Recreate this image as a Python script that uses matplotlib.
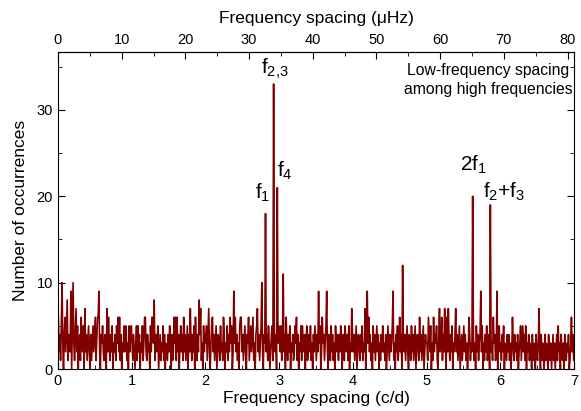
import numpy as np
import matplotlib.pyplot as plt
from matplotlib.ticker import MultipleLocator

plt.rcParams['font.family'] = ['Liberation Sans', 'DejaVu Sans']
plt.rcParams['mathtext.default'] = 'regular'

# histogram of frequency spacings, bins of 0.01 c/d
bin_width = 0.01
counts_0 = [6, 2, 4, 1, 5, 10, 3, 0, 4, 6,
            2, 5, 8, 1, 3, 4, 2, 9, 0, 5,
            10, 3, 1, 4, 7, 2, 5, 0, 3, 4,
            1, 6, 3, 2, 5, 0, 7, 2, 4, 1,
            3, 5, 2, 0, 4, 1, 3, 5, 2, 4,
            6, 1, 3, 6, 6, 9, 2, 0, 4, 3,
            5, 2, 1, 4, 3, 0, 7, 2, 6, 3,
            1, 4, 2, 5, 0, 3, 2, 4, 1, 5,
            3, 6, 2, 6, 1, 4, 0, 3, 2, 5,
            2, 4, 5, 1, 3, 0, 5, 2, 4, 5]
counts_1 = [3, 1, 4, 2, 0, 3, 5, 1, 5, 2,
            4, 0, 3, 2, 5, 1, 3, 6, 6, 2,
            1, 4, 2, 3, 0, 5, 2, 6, 6, 3,
            8, 1, 4, 2, 3, 5, 0, 2, 4, 1,
            3, 2, 5, 1, 4, 0, 3, 2, 1, 4,
            2, 5, 3, 0, 4, 1, 2, 6, 3, 6,
            1, 6, 2, 4, 0, 3, 5, 2, 4, 1,
            6, 2, 4, 1, 3, 5, 0, 4, 2, 7,
            3, 1, 4, 2, 5, 0, 6, 3, 1, 4,
            2, 8, 4, 7, 1, 3, 0, 5, 2, 4]
counts_2 = [3, 5, 1, 4, 7, 2, 0, 3, 5, 6,
            2, 4, 1, 3, 5, 0, 2, 4, 3, 1,
            5, 2, 3, 1, 6, 4, 0, 3, 2, 5,
            1, 4, 2, 6, 3, 5, 0, 2, 9, 3,
            6, 2, 4, 1, 3, 0, 5, 6, 6, 2,
            4, 1, 3, 5, 2, 0, 4, 3, 6, 1,
            3, 5, 2, 4, 6, 1, 3, 0, 4, 5,
            7, 2, 4, 1, 3, 5, 10, 2, 0, 4,
            3, 18, 2, 4, 1, 5, 3, 0, 2, 4,
            5, 1, 33, 3, 2, 4, 0, 21, 3, 5]
counts_3 = [4, 2, 5, 1, 3, 11, 2, 4, 0, 6,
            3, 1, 4, 2, 5, 0, 3, 2, 4, 1,
            2, 5, 3, 6, 1, 4, 0, 3, 2, 5,
            1, 5, 3, 2, 4, 0, 3, 5, 1, 2,
            4, 2, 5, 1, 3, 0, 4, 2, 5, 3,
            1, 4, 2, 9, 3, 5, 0, 2, 6, 3,
            4, 1, 3, 5, 9, 2, 0, 4, 3, 1,
            5, 2, 4, 1, 3, 0, 5, 2, 4, 3,
            1, 4, 2, 5, 3, 0, 4, 2, 1, 5,
            3, 2, 4, 1, 5, 0, 3, 2, 7, 4]
counts_4 = [2, 4, 1, 3, 5, 0, 2, 4, 3, 1,
            4, 2, 5, 1, 3, 2, 7, 0, 4, 9,
            3, 6, 2, 4, 1, 3, 0, 5, 2, 4,
            1, 3, 5, 2, 4, 0, 3, 1, 4, 2,
            5, 2, 3, 1, 4, 0, 2, 5, 3, 1,
            4, 2, 3, 5, 9, 1, 3, 0, 4, 2,
            5, 1, 3, 6, 2, 4, 0, 12, 3, 2,
            4, 1, 3, 5, 2, 0, 4, 3, 1, 5,
            2, 4, 1, 3, 5, 0, 2, 4, 3, 1,
            6, 2, 4, 1, 3, 5, 0, 2, 4, 3]
counts_5 = [3, 1, 6, 4, 2, 5, 0, 3, 1, 6,
            2, 4, 3, 5, 1, 0, 4, 7, 2, 3,
            6, 1, 4, 2, 7, 3, 0, 6, 2, 7,
            3, 1, 4, 2, 5, 0, 3, 2, 4, 7,
            2, 4, 1, 3, 5, 0, 2, 4, 1, 3,
            5, 2, 4, 1, 3, 0, 2, 6, 4, 1,
            3, 2, 20, 4, 1, 3, 0, 5, 2, 4,
            1, 3, 4, 9, 2, 5, 0, 3, 1, 4,
            2, 5, 1, 3, 4, 0, 19, 2, 3, 1,
            6, 3, 4, 1, 2, 9, 0, 3, 5, 2]
counts_6 = [3, 1, 4, 2, 5, 0, 3, 2, 1, 4,
            2, 4, 1, 3, 0, 2, 6, 3, 1, 4,
            2, 3, 1, 4, 0, 2, 3, 5, 1, 3,
            5, 2, 4, 1, 5, 0, 3, 2, 4, 1,
            3, 2, 0, 4, 1, 3, 2, 0, 4, 2,
            1, 3, 7, 2, 0, 4, 1, 3, 2, 0,
            4, 1, 3, 2, 0, 4, 2, 1, 3, 0,
            2, 4, 1, 3, 0, 2, 4, 1, 5, 2,
            3, 0, 4, 2, 1, 3, 0, 4, 2, 1,
            3, 2, 4, 0, 1, 3, 6, 2, 4, 1]

counts = np.array(counts_0 + counts_1 + counts_2 + counts_3 + counts_4 + counts_5 + counts_6)
spacing = (np.arange(len(counts)) + 0.5) * bin_width

# peak labels: (text, x, y)
peak_labels = [(r'$f_{2{,}3}$', 2.94, 33.4),
               (r'$f_1$', 2.78, 19.1),
               (r'$f_4$', 3.08, 21.6),
               (r'$2f_1$', 5.63, 22.4),
               (r'$f_2$+$f_3$', 6.05, 19.2)]

CD_TO_UHZ = 1e6 / 86400.0

fig, ax = plt.subplots(figsize=(5.81, 4.11), dpi=100)
fig.subplots_adjust(left=0.0998, right=0.988, bottom=0.102, top=0.8735)

ax.plot(spacing, counts, color='#800000', linewidth=1.2)

ax.set_xlim(0, 7)
ax.set_ylim(0, 36.7)
ax.set_xlabel('Frequency spacing (c/d)', fontsize=12.5, labelpad=2)
ax.set_ylabel('Number of occurrences', fontsize=12.5, labelpad=6)

ax.xaxis.set_major_locator(MultipleLocator(1))
ax.xaxis.set_minor_locator(MultipleLocator(0.5))
ax.yaxis.set_major_locator(MultipleLocator(10))
ax.yaxis.set_minor_locator(MultipleLocator(5))
ax.tick_params(which='both', direction='in', right=True, labelsize=10.5)
ax.tick_params(which='major', length=5)
ax.tick_params(which='minor', length=3)

# top axis in microhertz
top = ax.secondary_xaxis('top', functions=(lambda x: x * CD_TO_UHZ, lambda u: u / CD_TO_UHZ))
top.set_xlabel('Frequency spacing (\u03bcHz)', fontsize=12.5, labelpad=7)
top.set_xticks(np.arange(0, 81, 10))
top.xaxis.set_minor_locator(MultipleLocator(5))
top.tick_params(which='both', direction='in', labelsize=10.5)
top.tick_params(which='major', length=5)
top.tick_params(which='minor', length=3)

for txt, x, y in peak_labels:
    ax.text(x, y, txt, fontsize=15, ha='center', va='bottom')

ax.text(0.833, 0.965, 'Low-frequency spacing\namong high frequencies', transform=ax.transAxes,
        fontsize=11.3, ha='center', va='top', linespacing=1.3)

fig.savefig('out.png', dpi=100)
